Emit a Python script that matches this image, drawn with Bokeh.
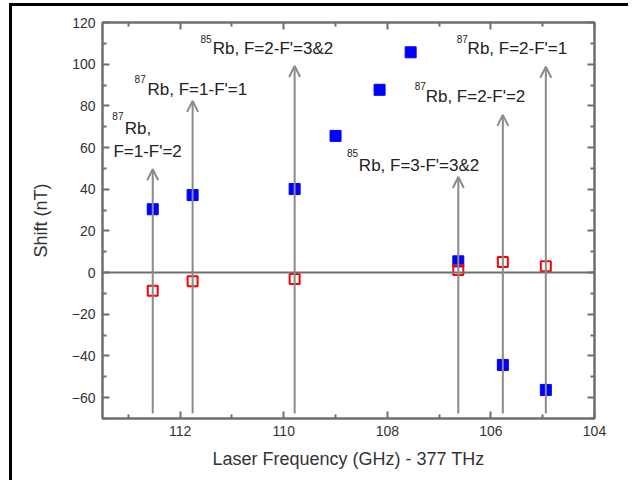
from bokeh.plotting import figure
from bokeh.models import Range1d, Span, Arrow, OpenHead, ColumnDataSource, FixedTicker, LinearAxis
from bokeh.core.properties import value
from bokeh.embed import file_html
from bokeh.resources import INLINE

# --- data ---
line_freq = [112.53, 111.76, 109.79, 106.63, 105.77, 104.94]
arrow_top = [49.6, 82.4, 99.1, 45.9, 75.7, 98.8]
arrow_bottom = [-67.6, -67.6, -67.6, -67.6, -67.6, -67.6]
red_y = [-8.7, -4.2, -3.1, 1.3, 5.1, 3.0]

blue_x = [112.53, 111.76, 109.79, 109.0, 108.15, 107.55, 106.63, 105.77, 104.94]
blue_y = [30.4, 37.2, 40.1, 65.6, 87.7, 105.7, 5.4, -44.3, -56.3]

x_ticks = [112, 110, 108, 106, 104]
x_minor = [113, 111, 109, 107, 105]
y_ticks = [-60, -40, -20, 0, 20, 40, 60, 80, 100, 120]
y_minor = [-70, -50, -30, -10, 10, 30, 50, 70, 90, 110]

# annotation texts (main part) and their superscripts
main_text = ["Rb,", "F=1-F'=2", "Rb, F=1-F'=1", "Rb, F=2-F'=3&2", "Rb, F=2-F'=1", "Rb, F=2-F'=2", "Rb, F=3-F'=3&2"]
main_x = [113.07, 113.29, 112.63, 111.37, 106.45, 107.26, 108.55]
main_y = [69.0, 57.9, 87.7, 107.5, 107.5, 84.4, 51.2]
sup_text = ["87", "87", "85", "87", "87", "85"]
sup_x = [113.31, 112.88, 111.61, 106.66, 107.47, 108.78]
sup_y = [75.0, 93.0, 112.3, 112.3, 89.7, 57.4]

FONT = "Liberation Sans"
AX = "#6e6e6e"
GRAY = "#8a8a8a"

OX, OY = 12, 6
W, H = 637 - OX, 489 - OY
p = figure(width=W, height=H, output_backend="svg", toolbar_location=None,
           x_range=Range1d(113.5, 104), y_range=Range1d(-70, 120),
           min_border_left=102 - OX, min_border_right=43, min_border_top=22 - OY, min_border_bottom=71,
           x_axis_location=None, y_axis_location=None)
p.styles = {"transform": f"translate({OX}px, {OY}px)",
            "box-shadow": "-6px -6px 0px -3px black"}
p.grid.visible = False
p.outline_line_color = AX
p.outline_line_width = 2
p.background_fill_color = "white"
p.border_fill_color = "white"

for loc, ticks, minor, labels, lab in [("below", x_ticks, x_minor, True, "Laser Frequency (GHz) - 377 THz"),
                                       ("above", x_ticks, x_minor, False, ""),
                                       ("left", y_ticks, y_minor, True, "Shift (nT)"),
                                       ("right", y_ticks, y_minor, False, "")]:
    ax = LinearAxis(axis_label=lab if lab else None)
    ax.ticker = FixedTicker(ticks=ticks, minor_ticks=minor)
    ax.axis_line_color = AX
    ax.axis_line_width = 2
    ax.major_tick_line_color = AX
    ax.major_tick_line_width = 2
    ax.minor_tick_line_color = AX
    ax.minor_tick_line_width = 2
    ax.major_tick_in = 7
    ax.major_tick_out = 0
    ax.minor_tick_in = 4
    ax.minor_tick_out = 0
    ax.major_label_text_font = FONT
    ax.major_label_text_font_size = "14px"
    ax.major_label_text_color = "#333333"
    ax.axis_label_text_font = FONT
    ax.axis_label_text_font_size = "18px"
    ax.axis_label_text_font_style = "normal"
    ax.axis_label_text_color = "#333333"
    ax.major_label_standoff = 7
    ax.axis_label_standoff = 10
    if not labels:
        ax.major_label_text_alpha = 0
        ax.major_label_text_font_size = "1px"
        ax.major_label_standoff = 0
    if loc == "left":
        ax.axis_label_standoff = 18
    p.add_layout(ax, loc)

p.add_layout(Span(location=0, dimension="width", line_color=AX, line_width=2))

arrows = ColumnDataSource(dict(x=line_freq, y0=arrow_bottom, y1=arrow_top))
p.add_layout(Arrow(source=arrows, x_start="x", y_start="y0", x_end="x", y_end="y1",
                   line_color=GRAY, line_width=2,
                   end=OpenHead(size=11, line_color=GRAY, line_width=2)))

p.scatter(blue_x, blue_y, marker="square", size=11, fill_color="#0000ff", line_color="#0000ff")
p.scatter(line_freq, red_y, marker="square", size=10, fill_color=None, line_color="#ff0000", line_width=2)

p.text(main_x, main_y, text=main_text, text_font=value(FONT), text_font_size="17px",
       text_color="#222222", text_align="left", text_baseline="alphabetic")
p.text(sup_x, sup_y, text=sup_text, text_font=value(FONT), text_font_size="10px",
       text_color="#222222", text_align="left", text_baseline="alphabetic")

open("out.html", "w").write(file_html(p, INLINE))
